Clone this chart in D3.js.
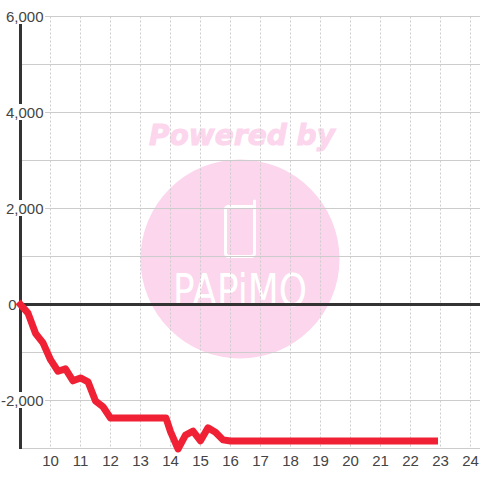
<!DOCTYPE html>
<html><head><meta charset="utf-8">
<script src="https://cdn.jsdelivr.net/npm/d3@7"></script>
<style>html,body{margin:0;padding:0;background:#fff}svg{display:block}</style></head>
<body><svg id="c" width="480" height="480"></svg>
<script>
const hours=[9,9.25,9.5,9.75,10,10.25,10.5,10.75,11,11.25,11.5,11.75,12,12.5,13,13.5,13.85,14,14.25,14.5,14.75,15,15.25,15.5,15.75,16,17,18,19,20,21,22,22.8];
const pnl=[0,-180,-600,-800,-1150,-1390,-1340,-1590,-1530,-1610,-2010,-2130,-2365,-2365,-2365,-2365,-2365,-2650,-3010,-2720,-2640,-2840,-2570,-2660,-2820,-2843,-2843,-2843,-2843,-2843,-2843,-2843,-2843];
const xTicks=[10,11,12,13,14,15,16,17,18,19,20,21,22,23,24];
const yTicks=[6000,4000,2000,-2000];
const yZero=[0];
const yGrid=[6000,5000,4000,3000,2000,1000,-1000,-2000,-3000];
const svg=d3.select('#c');
const x=d3.scaleLinear().domain([9,24]).range([20.5,470.5]);
const y=d3.scaleLinear().domain([6000,-3000]).range([16.5,448.5]);
const font='"Liberation Sans",Arial,sans-serif';
const fmt=d3.format(',');
// watermark
const wm=svg.append('g');
wm.append('circle').attr('cx',240).attr('cy',259).attr('r',99.5).attr('fill','#fcd6ec');
wm.append('text').attr('x',242).attr('y',144.5).attr('text-anchor','middle').attr('textLength',186).attr('lengthAdjust','spacingAndGlyphs')
 .attr('font-family','"DejaVu Sans"').attr('font-style','italic').attr('font-weight','bold').attr('font-size',29)
 .attr('fill','#fcd6ec').attr('stroke','#fcd6ec').attr('stroke-width',1).text('Powered by');
wm.append('path').attr('fill','none').attr('stroke','#fff').attr('stroke-width',3).attr('stroke-linecap','round')
 .attr('d','M228.5,206.5 H254.5 V201 M254.5,206.5 V253 Q254.5,256.5 251,256.5 H229 Q225.5,256.5 225.5,253 V209.5 Q225.5,206.5 228.5,206.5 Z');
wm.append('text').attr('x',240).attr('y',306).attr('text-anchor','middle').attr('textLength',134).attr('lengthAdjust','spacingAndGlyphs')
 .attr('font-family','"DejaVu Sans"').attr('font-size',45).attr('fill','#fff').text('PAPiMO');
// gridlines
svg.append('g').selectAll('line').data(xTicks).join('line')
 .attr('x1',d=>x(d)).attr('x2',d=>x(d)).attr('y1',y(6000)).attr('y2',y(-3000))
 .attr('stroke','#ccc').attr('stroke-dasharray','2,2');
svg.append('g').selectAll('line').data(yGrid).join('line')
 .attr('x1',20).attr('x2',480).attr('y1',d=>y(d)).attr('y2',d=>y(d)).attr('stroke','#ccc');
// axes
svg.append('line').attr('x1',20.5).attr('x2',20.5).attr('y1',16).attr('y2',449).attr('stroke','#333').attr('stroke-width',3);
svg.append('line').attr('x1',20).attr('x2',480).attr('y1',y(0)).attr('y2',y(0)).attr('stroke','#333').attr('stroke-width',3);
// tick labels
svg.append('g').selectAll('text').data(xTicks).join('text').attr('x',d=>x(d)).attr('y',466)
 .attr('text-anchor','middle').attr('font-family',font).attr('font-size',15).attr('fill','#444').text(d=>d);
const yl=svg.append('g');
yl.selectAll('rect').data(yTicks).join('rect').attr('x',0).attr('width',45).attr('y',d=>y(d)-8.5).attr('height',16).attr('fill','#fff');
yl.selectAll('text.t').data(yTicks).join('text').attr('class','t').attr('x',43.5).attr('y',d=>y(d)+5.5)
 .attr('text-anchor','end').attr('font-family',font).attr('font-size',15).attr('fill','#444').text(d=>fmt(d).replace('−','-'));
yl.selectAll('text.z').data(yZero).join('text').attr('class','z').attr('x',16.5).attr('y',d=>y(d)+5.5)
 .attr('text-anchor','end').attr('font-family',font).attr('font-size',15).attr('fill','#444').text(d=>d);
// line
const line=d3.line().x((d,i)=>x(hours[i])).y(d=>y(d));
svg.append('path').datum(pnl).attr('d',line).attr('fill','none').attr('stroke','#f02035').attr('stroke-width',7).attr('stroke-linejoin','round').attr('stroke-linecap','square');
</script></body></html>
